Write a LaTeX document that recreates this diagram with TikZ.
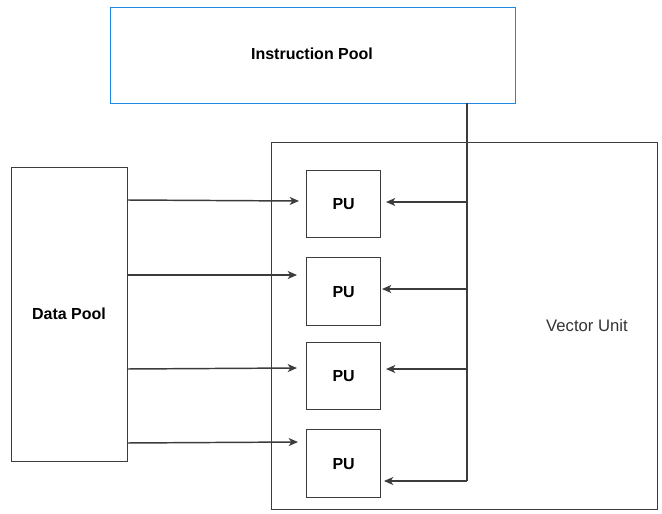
\documentclass[tikz,border=0pt]{standalone}
\usepackage{fontspec}
\setmainfont{Liberation Sans}
\usetikzlibrary{arrows.meta}
\definecolor{lin}{HTML}{3C3C3C}
\definecolor{bluebd}{HTML}{1E88E5}
\tikzset{
  box/.style={draw=lin, line width=1pt, inner sep=0pt},
  lbl/.style={font=\fontsize{12pt}{14pt}\selectfont\bfseries, text=black},
  conn/.style={draw=lin, line width=1.1pt, -{Stealth[length=7pt,width=6pt,inset=2pt]}},
  wire/.style={draw=lin, line width=1.1pt},
}
\begin{document}
\begin{tikzpicture}[x=0.75pt,y=-0.75pt]
\useasboundingbox (0,0) rectangle (662,514);
% boxes
\node[box, draw=bluebd, minimum width=405*0.75pt, minimum height=96*0.75pt, anchor=north west] (ip) at (110,7) {};
\node[lbl] (iplbl) at (312,54) {Instruction Pool};
\node[box, minimum width=386*0.75pt, minimum height=367*0.75pt, anchor=north west] (vu) at (271,142) {};
\node[font=\fontsize{12.5pt}{14pt}\selectfont, text=black!80] (vulbl) at (587,326) {Vector Unit};
\node[box, minimum width=116*0.75pt, minimum height=294*0.75pt, anchor=north west] (dp) at (11,167) {};
\node[lbl] (dplbl) at (69,314) {Data Pool};
\node[box, minimum width=74*0.75pt, minimum height=67*0.75pt, anchor=north west] (pu1) at (306,170) {};
\node[box, minimum width=74*0.75pt, minimum height=68*0.75pt, anchor=north west] (pu2) at (306,257) {};
\node[box, minimum width=74*0.75pt, minimum height=67*0.75pt, anchor=north west] (pu3) at (306,342) {};
\node[box, minimum width=74*0.75pt, minimum height=68*0.75pt, anchor=north west] (pu4) at (306,429) {};
\node[lbl] at (pu1.center) {PU};
\node[lbl] at (pu2.center) {PU};
\node[lbl] at (pu3.center) {PU};
\node[lbl] at (pu4.center) {PU};
% instruction bus
\coordinate (btop) at (467,103);
\coordinate (b1) at (467,202);
\coordinate (b2) at (467,289);
\coordinate (b3) at (467,369);
\coordinate (b4) at (467,481);
\draw[wire] (btop) -- (b4);
\coordinate (e1) at (386,202);
\coordinate (e2) at (382,289);
\coordinate (e3) at (386,369);
\coordinate (e4) at (384,481);
\draw[conn] (b1) -- (e1);
\draw[conn] (b2) -- (e2);
\draw[conn] (b3) -- (e3);
\draw[conn] (b4) -- (e4);
% data connectors
\coordinate (d1) at (127,200);
\coordinate (d2) at (127,275);
\coordinate (d3) at (127,369);
\coordinate (d4) at (127,443);
\coordinate (f1) at (299,201);
\coordinate (f2) at (297,275);
\coordinate (f3) at (297,368);
\coordinate (f4) at (298,442);
\draw[conn] (d1) -- (f1);
\draw[conn] (d2) -- (f2);
\draw[conn] (d3) -- (f3);
\draw[conn] (d4) -- (f4);
\end{tikzpicture}
\end{document}
